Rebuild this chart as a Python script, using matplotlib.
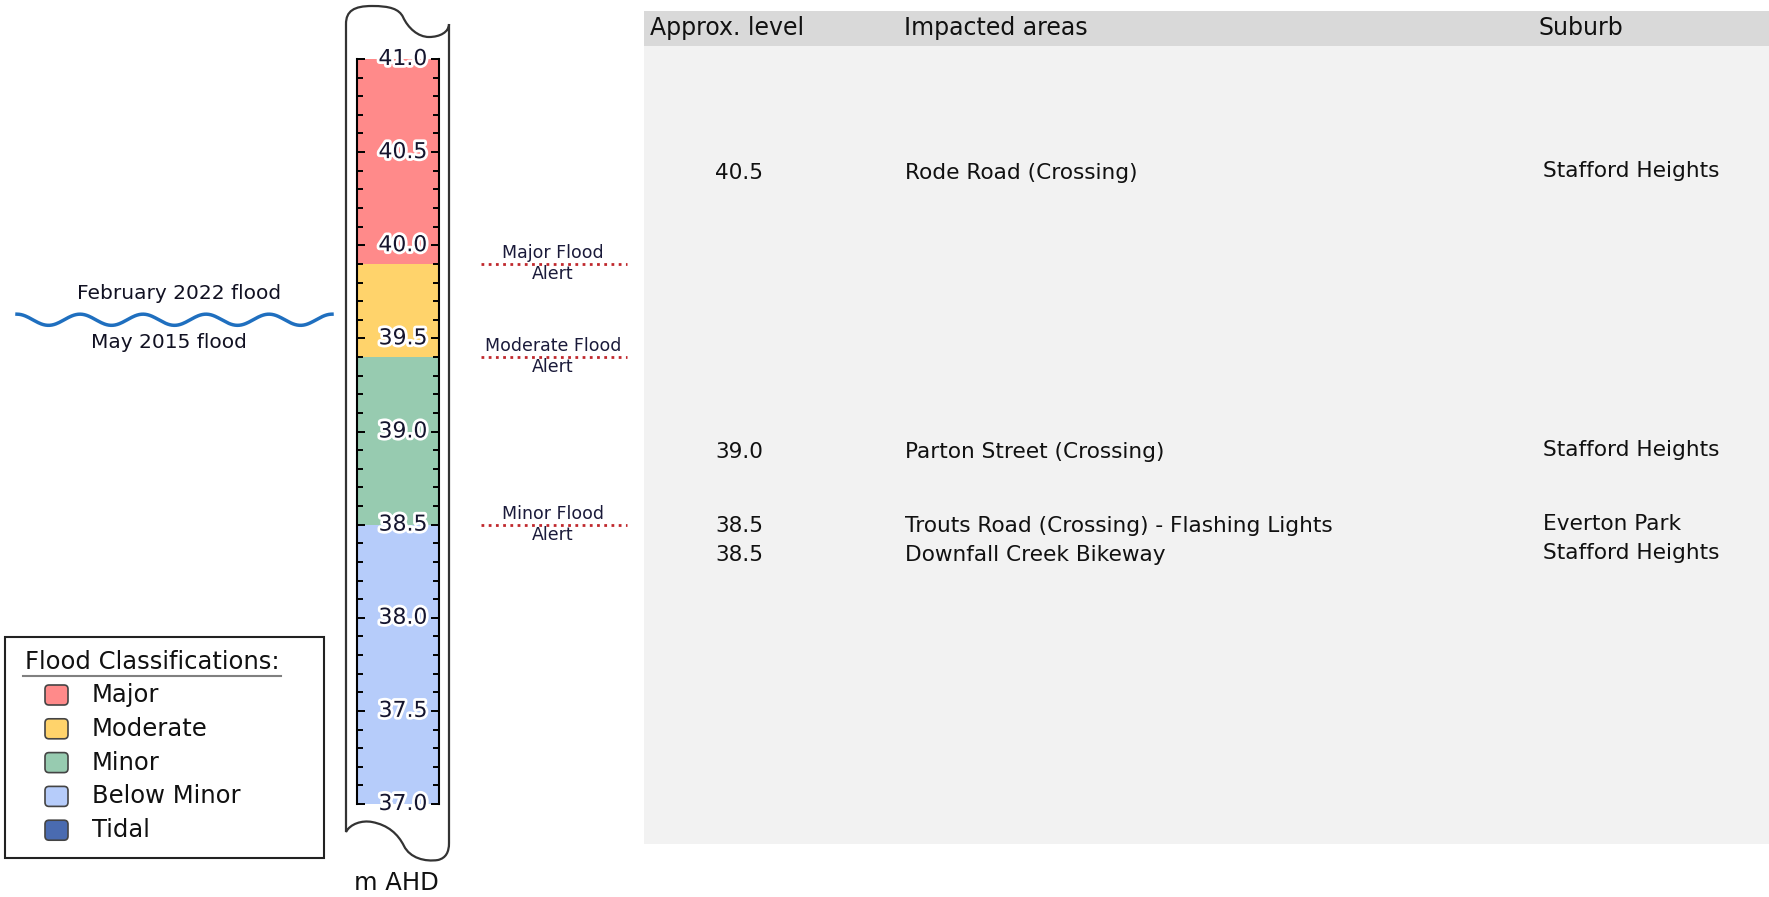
import numpy as np
import matplotlib
matplotlib.use('Agg')
import matplotlib.pyplot as plt
import matplotlib.patheffects as pe
from matplotlib.patches import Rectangle, FancyBboxPatch, PathPatch
from matplotlib.path import Path
from matplotlib.transforms import blended_transform_factory
from matplotlib.ticker import MultipleLocator

# dados do medidor
classes = ['Major', 'Moderate', 'Minor', 'Below Minor', 'Tidal']
cores = ['#FF8A8A', '#FFD36B', '#97CBB0', '#B6CCFA', '#4A6BB0']
faixa_base = [39.9, 39.4, 38.5, 37.0]
faixa_topo = [41.0, 39.9, 39.4, 38.5]
alertas = ['Major Flood', 'Moderate Flood', 'Minor Flood']
nivel_alerta = [39.9, 39.4, 38.5]
cheias = ['February 2022 flood', 'May 2015 flood']
nivel_cheia = 39.6
ticks_rotulo = [37.0, 37.5, 38.0, 38.5, 39.0, 39.5, 40.0, 40.5, 41.0]

# dados da tabela
cabecalho = ['Approx. level', 'Impacted areas', 'Suburb']
tab_nivel = [40.5, 39.0, 38.5, 38.5]
tab_area = ['Rode Road (Crossing)', 'Parton Street (Crossing)',
            'Trouts Road (Crossing) - Flashing Lights', 'Downfall Creek Bikeway']
tab_suburbio = ['Stafford Heights', 'Stafford Heights', 'Everton Park', 'Stafford Heights']

W, H = 1769, 897
fig = plt.figure(figsize=(W / 100, H / 100), dpi=100)

px = fig.add_axes([0, 0, 1, 1])
px.set_xlim(0, W)
px.set_ylim(H, 0)
px.axis('off')

# tubo do medidor
verts = [(346, 24), (346, 832),
         (350, 824), (362, 820), (372, 822),
         (388, 825), (398, 834), (404, 846),
         (410, 858), (425, 862), (438, 860),
         (446, 858), (449, 852), (449, 843),
         (449, 24),
         (449, 32), (440, 37), (429, 37),
         (418, 37), (408, 28), (403, 17),
         (399, 9), (390, 6), (372, 6),
         (354, 6), (346, 11), (346, 24)]
codes = [Path.MOVETO, Path.LINETO] + [Path.CURVE4] * 12 + [Path.LINETO] + [Path.CURVE4] * 12
px.add_patch(PathPatch(Path(verts, codes), facecolor='white', edgecolor='#333333', lw=1.6))

g = fig.add_axes([357 / W, (H - 804) / H, 82 / W, 745 / H])
g.set_ylim(37, 41)
g.set_xlim(0, 1)
for b, t, c in zip(faixa_base, faixa_topo, cores):
    g.bar(0.5, t - b, bottom=b, width=1, color=c, edgecolor='none')
g.spines[['top', 'bottom']].set_visible(False)
g.spines[['left', 'right']].set_linewidth(1.5)
g.yaxis.set_major_locator(MultipleLocator(0.5))
g.yaxis.set_minor_locator(MultipleLocator(0.1))
g.tick_params(axis='y', which='both', direction='in', left=True, right=True,
              labelleft=False, labelright=False, width=1.4)
g.tick_params(axis='y', which='major', length=6)
g.tick_params(axis='y', which='minor', length=4.5)
g.set_xticks([])
g.patch.set_alpha(0)

mix = blended_transform_factory(px.transData, g.transData)
halo = [pe.withStroke(linewidth=4, foreground='white')]
for v in ticks_rotulo:
    g.text(403, v, f'{v:.1f}', transform=mix, ha='center', va='center', clip_on=False,
           fontsize=15.8, color='#15152e', path_effects=halo, zorder=5)

# linhas de alerta
for nome, nv in zip(alertas, nivel_alerta):
    px.plot([481, 627], [nv, nv], transform=mix, color='#C0282D', lw=2,
            linestyle=(0, (1, 1.6)))
    px.annotate(nome, xy=(553, nv), xycoords=mix, xytext=(0, 8), textcoords='offset points',
                ha='center', va='center', fontsize=12.5, color='#1a1a3a')
    px.annotate('Alert', xy=(553, nv), xycoords=mix, xytext=(0, -7.5), textcoords='offset points',
                ha='center', va='center', fontsize=12.5, color='#1a1a3a')

# cheias históricas
xo = np.linspace(17, 332, 300)
yo = nivel_cheia + 0.03 * np.cos(2 * np.pi * (xo - 17) / 63)
px.plot(xo, yo, transform=mix, color='#1F6FBF', lw=2.5)
px.annotate(cheias[0], xy=(179, nivel_cheia), xycoords=mix, xytext=(0, 19), textcoords='offset points',
            ha='center', va='center', fontsize=14.5, color='#111122')
px.annotate(cheias[1], xy=(169, nivel_cheia), xycoords=mix, xytext=(0, -16.5), textcoords='offset points',
            ha='center', va='center', fontsize=14.5, color='#111122')

px.text(396, 883, 'm AHD', ha='center', va='center', fontsize=17.5, color='#111111')

# legenda
px.add_patch(Rectangle((5, 637), 319, 221, facecolor='none', edgecolor='#222222', lw=1.5))
px.text(25, 662, 'Flood Classifications:', ha='left', va='center', fontsize=17.5, color='#111111')
px.plot([23, 281], [676, 676], color='#808080', lw=1.5)
for i, (nome, c) in enumerate(zip(classes, cores)):
    yc = 695 + i * 33.8
    px.add_patch(FancyBboxPatch((45, yc - 10), 23, 20, boxstyle='round,pad=0,rounding_size=4',
                                facecolor=c, edgecolor='#444444', lw=1.2))
    px.text(92, yc, nome, ha='left', va='center', fontsize=17.5, color='#111111')

# tabela
px.add_patch(Rectangle((644, 11), W - 644, 833, facecolor='#F2F2F2', edgecolor='none'))
px.add_patch(Rectangle((644, 11), W - 644, 35, facecolor='#D9D9D9', edgecolor='none'))
for txt, x in zip(cabecalho, [650, 904, 1538]):
    px.text(x, 28, txt, ha='left', va='center', fontsize=17, color='#111111')

grupos = {}
for nv in tab_nivel:
    grupos[nv] = grupos.get(nv, 0) + 1
vistos = {}
for nv, area, sub in zip(tab_nivel, tab_area, tab_suburbio):
    n = grupos[nv]
    k = vistos.get(nv, 0)
    vistos[nv] = k + 1
    base = 59 + (41 - nv) * 186.25 + 21
    y = base + (k - (n - 1) / 2) * 29 - (n - 1) * 5
    px.text(715, y, f'{nv:.1f}', ha='left', va='center', fontsize=15.6, color='#111111')
    px.text(905, y, area, ha='left', va='center', fontsize=15.6, color='#111111')
    px.text(1543, y - 2, sub, ha='left', va='center', fontsize=15.6, color='#111111')

fig.savefig('out.png', dpi=100)
